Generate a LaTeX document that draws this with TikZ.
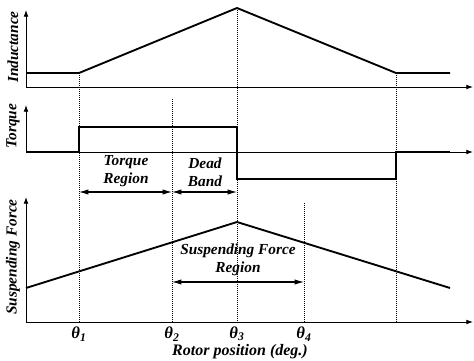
\documentclass[tikz,border=0pt]{standalone}
\usepackage{fontspec}
\setmainfont{Liberation Serif}
\usetikzlibrary{arrows.meta}

\tikzset{
  axisline/.style={line width=0.6pt,-{Latex[length=5pt,width=3.5pt]}},
  wave/.style={line width=1.4pt,line join=miter},
  guide/.style={densely dotted,line width=0.5pt},
  span/.style={line width=0.8pt,{Latex[length=7pt,width=4pt]}-{Latex[length=7pt,width=4pt]}},
  lbl/.style={font=\fontsize{11.5}{13.5}\selectfont\bfseries\itshape,align=center,inner sep=1pt},
  anglbl/.style={lbl,font=\fontsize{12.5}{14}\selectfont\bfseries\itshape},
}

\begin{document}
\begin{tikzpicture}[x=0.75pt,y=-0.75pt]
  \useasboundingbox (0,0) rectangle (474,360);
  % angle positions
  \coordinate (t1) at (79,0);
  \coordinate (t2) at (172,0);
  \coordinate (t3) at (237,0);
  \coordinate (t4) at (304,0);
  \coordinate (t5) at (396,0);

  % guides
  \draw[guide] (t1 |- 0,73) -- (t1 |- 0,322);
  \draw[guide] (t2 |- 0,99) -- (t2 |- 0,322);
  \draw[guide] (t3 |- 0,8) -- (t3 |- 0,322);
  \draw[guide] (t4 |- 0,203) -- (t4 |- 0,322);
  \draw[guide] (t5 |- 0,73) -- (t5 |- 0,322);

  % inductance
  \draw[axisline] (26,87) -- (26,10);
  \draw[axisline] (26,87) -- (473,87);
  \draw[wave] (26,73) -- (79,73) -- (237,8) -- (396,73) -- (450,73);
  \node[lbl,rotate=90] (ind) at (13,47) {Inductance};

  % torque
  \draw[axisline] (26,152) -- (26,105);
  \draw[axisline] (26,152) -- (473,152);
  \draw[wave] (26,152) -- (79,152) -- (79,127) -- (237,127) -- (237,179)
    -- (396,179) -- (396,152) -- (450,152);
  \node[lbl,rotate=90] (trq) at (13,126) {Torque};

  \coordinate (tra) at (79,192);
  \coordinate (trb) at (172,192);
  \coordinate (trc) at (237,192);
  \draw[span] (tra) -- (trb);
  \draw[span] (trb) -- (trc);
  \node[lbl,anchor=south] (treg) at (126,188) {Torque\\Region};
  \node[lbl,anchor=south] (dead) at (205,188) {Dead\\Band};

  % suspending force
  \draw[axisline] (26,322) -- (26,197);
  \draw[axisline] (26,322) -- (473,322);
  \draw[wave] (26,288) -- (237,222) -- (450,288);
  \node[lbl,rotate=90] (sus) at (13,257) {Suspending Force};

  \coordinate (sfa) at (172,282);
  \coordinate (sfb) at (304,282);
  \draw[span] (sfa) -- (sfb);
  \node[lbl,anchor=south] (sreg) at (238,277) {Suspending Force\\Region};

  % angle labels
  \node[anglbl] (th1) at (t1 |- 0,334) {θ\textsubscript{1}};
  \node[anglbl] (th2) at (t2 |- 0,334) {θ\textsubscript{2}};
  \node[anglbl] (th3) at (t3 |- 0,334) {θ\textsubscript{3}};
  \node[anglbl] (th4) at (t4 |- 0,334) {θ\textsubscript{4}};
  \node[lbl,font=\fontsize{12}{14}\selectfont\bfseries\itshape] (rot) at (240,352) {Rotor position (deg.)};
\end{tikzpicture}
\end{document}
